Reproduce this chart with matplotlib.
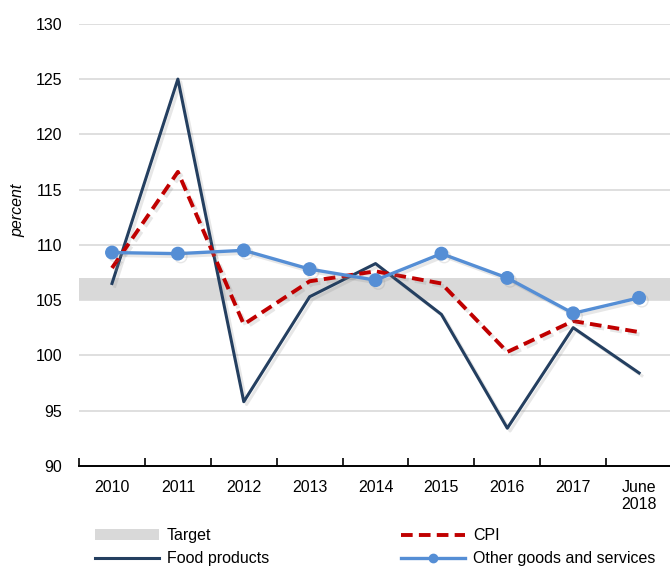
import matplotlib
matplotlib.use("Agg")
import matplotlib.pyplot as plt
import matplotlib.patheffects as pe
from matplotlib.patches import Patch
import numpy as np

# values
categories = ['2010', '2011', '2012', '2013', '2014', '2015', '2016', '2017', 'June\n2018']
food = [106.5, 125.0, 95.8, 105.3, 108.3, 103.7, 93.4, 102.5, 98.4]
cpi = [107.9, 116.6, 102.8, 106.7, 107.6, 106.5, 100.3, 103.1, 102.1]
other = [109.3, 109.2, 109.5, 107.8, 106.8, 109.2, 107.0, 103.8, 105.2]
target_low, target_high = 105, 107

plt.rcParams['font.family'] = ['Liberation Sans Narrow', 'Liberation Sans', 'DejaVu Sans']
plt.rcParams['font.size'] = 11.5

fig = plt.figure(figsize=(6.7, 5.68), dpi=100)
ax = fig.add_axes([0.118, 0.180, 0.885, 0.778])

x = np.arange(len(categories))
shadow = [pe.SimpleLineShadow(offset=(2, -2), shadow_color='#888888', alpha=0.2), pe.Normal()]

ax.axhspan(target_low, target_high, color='#D9D9D9', zorder=1, lw=0)
ax.plot(x, food, color='#243F60', lw=2.2, zorder=3, path_effects=shadow)
ax.plot(x, cpi, color='#C00000', lw=2.8, ls=(0, (3, 1.6)), zorder=4, path_effects=shadow)
ax.plot(x, other, color='#558ED5', lw=2.4, marker='o', ms=9, zorder=5, path_effects=shadow)

ax.set_xlim(-0.5, len(categories) - 0.5)
ax.set_ylim(90, 130)
ax.set_yticks(np.arange(90, 131, 5))
ax.yaxis.grid(True, color='#D9D9D9', lw=1.2)
ax.set_axisbelow(True)
ax.tick_params(axis='y', length=0, pad=12)

ax.set_xticks(x)
ax.set_xticklabels(categories)
ax.set_xticks(np.arange(-0.5, len(categories)), minor=True)
ax.tick_params(axis='x', which='major', length=0, pad=10)
ax.tick_params(axis='x', which='minor', direction='in', length=6, width=1.2, color='black')

for s in ['left', 'right', 'top']:
    ax.spines[s].set_visible(False)
ax.spines['bottom'].set_linewidth(1.4)

fig.text(0.027, 0.63, 'percent', rotation=90, style='italic', ha='center', va='center')

handles = [
    Patch(facecolor='#D9D9D9', edgecolor='none'),
    plt.Line2D([], [], color='#243F60', lw=2.2),
    plt.Line2D([], [], color='#C00000', lw=2.8, ls=(0, (3, 1.6))),
    plt.Line2D([], [], color='#558ED5', lw=2.4, marker='o', ms=6),
]
labels = ['Target', 'Food products', 'CPI', 'Other goods and services']
fig.legend(handles, labels, ncol=2, frameon=False, loc='lower left',
           bbox_to_anchor=(0.12, -0.022), handlelength=4.0, handleheight=0.7,
           columnspacing=8.3, labelspacing=0.5, handletextpad=0.5)

fig.savefig('out.png', dpi=100)
